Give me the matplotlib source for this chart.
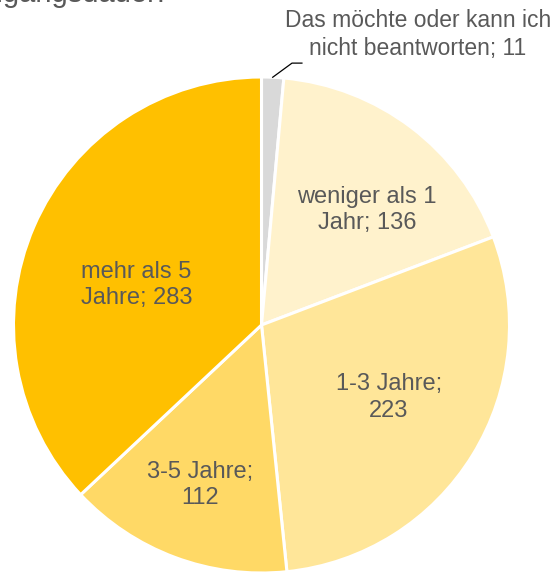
import matplotlib.pyplot as plt
import numpy as np

plt.rcParams['font.family'] = ['Liberation Sans', 'DejaVu Sans']

labels = ['Das möchte oder kann ich\nnicht beantworten; 11',
          'weniger als 1\nJahr; 136',
          '1-3 Jahre;\n223',
          '3-5 Jahre;\n112',
          'mehr als 5\nJahre; 283']
values = [11, 136, 223, 112, 283]
colors = ['#D9D9D9', '#FFF2CC', '#FFE699', '#FFD966', '#FFC000']
# label placement inside the wedges: radius fraction and angle shift (deg)
label_r = [None, 0.63, 0.59, 0.69, 0.53]
label_shift = [0, -5.3, 2.0, -0.4, 5.7]

txt_col = '#595959'

fig = plt.figure(figsize=(5.59, 5.75), dpi=100)
ax = fig.add_axes([0, 0, 1, 1])

wedges, _ = ax.pie(values, colors=colors, startangle=90, counterclock=False,
                   radius=1, center=(0, 0),
                   wedgeprops=dict(edgecolor='white', linewidth=2.2))

for w, lab, r, sh in zip(wedges, labels, label_r, label_shift):
    mid = np.deg2rad((w.theta1 + w.theta2) / 2 + sh)
    if r is None:
        # small slice: label outside with leader line
        x0, y0 = np.cos(mid), np.sin(mid)
        ax.plot([x0, 0.123, 0.163], [y0, 1.056, 1.056], color='black', lw=0.9)
        ax.text(0.631, 1.172, lab, ha='center', va='center', fontsize=16.5,
                color=txt_col, linespacing=1.25)
    else:
        ax.text(r * np.cos(mid), r * np.sin(mid), lab, ha='center', va='center',
                fontsize=17, color=txt_col, linespacing=1.25)

# cut-off title line at the top
ax.text(-0.389, 1.302, 'Zugangsdauer:', ha='right', va='baseline',
        fontsize=21, color=txt_col)

ax.set_xlim(-261.5 / 248, (559 - 261.5) / 248)
ax.set_ylim(-(575 - 325) / 248, 325 / 248)
ax.set_aspect('equal')
ax.axis('off')

fig.savefig('out.png', dpi=100)
